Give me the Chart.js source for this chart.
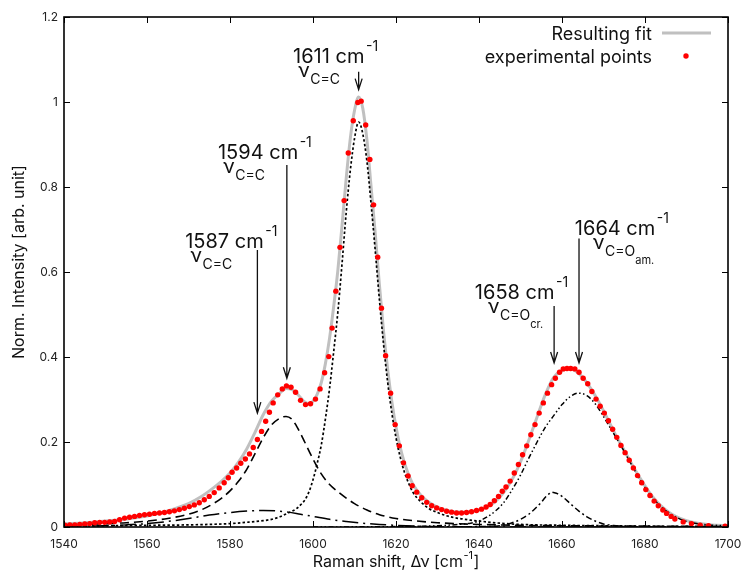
<!DOCTYPE html>
<html>
<head>
<meta charset="utf-8">
<script src="https://cdn.jsdelivr.net/npm/chart.js@4.4.1/dist/chart.umd.min.js"></script>
<style>
  body { margin: 0; background: #fff; }
</style>
</head>
<body>
<canvas id="myChart" width="744" height="571"></canvas>
<script>
// experimental points (Raman shift, normalised intensity)
const expShift = [
  1540.2, 1541.4, 1542.6, 1543.8, 1545.0, 1546.2, 1547.4, 1548.6, 1549.8, 1551.0,
  1552.2, 1553.4, 1554.6, 1555.8, 1557.0, 1558.2, 1559.4, 1560.6, 1561.8, 1563.0,
  1564.2, 1565.4, 1566.6, 1567.8, 1569.0, 1570.2, 1571.4, 1572.6, 1573.8, 1575.0,
  1576.2, 1577.4, 1578.6, 1579.6, 1580.5, 1581.6, 1582.6, 1583.7, 1584.7, 1585.6,
  1586.6, 1587.6, 1588.6, 1589.5, 1590.4, 1591.5, 1592.6, 1593.6, 1594.7, 1595.8,
  1597.0, 1598.2, 1599.4, 1600.6, 1601.7, 1602.8, 1603.8, 1604.6, 1605.5, 1606.5,
  1607.5, 1608.5, 1609.7, 1610.8, 1611.6, 1612.7, 1613.7, 1614.6, 1615.6, 1616.5,
  1617.5, 1618.7, 1619.8, 1620.8, 1621.8, 1622.9, 1623.9, 1625.0, 1626.2, 1627.4,
  1628.6, 1629.8, 1631.0, 1632.2, 1633.4, 1634.6, 1635.8, 1637.0, 1638.2, 1639.4,
  1640.6, 1641.7, 1642.7, 1643.7, 1644.7, 1645.6, 1646.5, 1647.5, 1648.5, 1649.5,
  1650.5, 1651.5, 1652.5, 1653.5, 1654.5, 1655.5, 1656.5, 1657.5, 1658.4, 1659.4,
  1660.3, 1661.2, 1662.1, 1663.1, 1664.1, 1665.1, 1666.2, 1667.2, 1668.2, 1669.2,
  1670.2, 1671.2, 1672.2, 1673.2, 1674.2, 1675.2, 1676.2, 1677.2, 1678.2, 1679.2,
  1680.2, 1681.2, 1682.2, 1683.2, 1684.3, 1685.2, 1686.3, 1687.2, 1689.2, 1691.2,
  1693.3, 1695.3, 1699.3
];
const expInt = [
  0.004, 0.005, 0.005, 0.006, 0.007, 0.008, 0.010, 0.011, 0.011, 0.012,
  0.013, 0.017, 0.021, 0.023, 0.025, 0.027, 0.029, 0.030, 0.032, 0.033,
  0.034, 0.036, 0.038, 0.041, 0.044, 0.048, 0.052, 0.057, 0.064, 0.072,
  0.081, 0.092, 0.104, 0.116, 0.129, 0.139, 0.150, 0.160, 0.172, 0.187,
  0.206, 0.225, 0.249, 0.270, 0.292, 0.311, 0.325, 0.332, 0.329, 0.317,
  0.298, 0.288, 0.290, 0.301, 0.325, 0.363, 0.401, 0.468, 0.555, 0.658,
  0.768, 0.880, 0.956, 0.999, 1.002, 0.946, 0.865, 0.758, 0.635, 0.515,
  0.403, 0.315, 0.241, 0.191, 0.151, 0.120, 0.097, 0.082, 0.069, 0.058,
  0.050, 0.045, 0.041, 0.037, 0.035, 0.033, 0.033, 0.034, 0.036, 0.039,
  0.042, 0.047, 0.053, 0.062, 0.072, 0.084, 0.094, 0.108, 0.127, 0.147,
  0.170, 0.191, 0.217, 0.241, 0.268, 0.292, 0.315, 0.335, 0.350, 0.364,
  0.372, 0.373, 0.373, 0.372, 0.364, 0.350, 0.337, 0.319, 0.301, 0.284,
  0.268, 0.250, 0.230, 0.211, 0.192, 0.175, 0.157, 0.139, 0.121, 0.104,
  0.088, 0.074, 0.061, 0.050, 0.040, 0.032, 0.025, 0.019, 0.012, 0.008,
  0.004, 0.003, 0.002
];

// resulting fit (grey line)
const fitShift = [
  1540, 1545, 1550, 1555, 1560, 1565, 1570, 1573, 1576, 1578,
  1580, 1582, 1584, 1586, 1588, 1590, 1592, 1593.5, 1595, 1596.5,
  1598, 1599, 1600, 1601, 1602, 1603, 1604, 1605, 1606, 1607,
  1608, 1609, 1610, 1611, 1612, 1613, 1614, 1615, 1616, 1617,
  1618, 1619, 1620, 1621, 1622, 1623, 1624, 1626, 1628, 1630,
  1632, 1634, 1636, 1638, 1640, 1642, 1644, 1646, 1648, 1650,
  1652, 1654, 1656, 1658, 1660, 1661.5, 1663, 1665, 1667, 1669,
  1671, 1673, 1675, 1677, 1679, 1681, 1683, 1685, 1687, 1690,
  1693, 1696, 1700
];
const fitInt = [
  0.007, 0.010, 0.014, 0.019, 0.026, 0.038, 0.055, 0.071, 0.092, 0.108,
  0.127, 0.152, 0.183, 0.222, 0.264, 0.296, 0.315, 0.326, 0.323, 0.310,
  0.294, 0.290, 0.296, 0.312, 0.340, 0.385, 0.445, 0.520, 0.605, 0.710,
  0.820, 0.915, 0.980, 1.012, 0.985, 0.910, 0.800, 0.690, 0.570, 0.460,
  0.370, 0.295, 0.235, 0.188, 0.152, 0.124, 0.102, 0.075, 0.058, 0.047,
  0.040, 0.036, 0.035, 0.036, 0.040, 0.047, 0.060, 0.082, 0.112, 0.153,
  0.204, 0.259, 0.312, 0.352, 0.368, 0.373, 0.369, 0.352, 0.325, 0.292,
  0.254, 0.215, 0.180, 0.145, 0.112, 0.082, 0.058, 0.040, 0.027, 0.015,
  0.008, 0.005, 0.003
];

// fitted bands
const b1611Shift = [
  1540, 1550, 1560, 1570, 1580, 1585, 1588, 1590, 1592, 1594,
  1596, 1597, 1598, 1599, 1600, 1601, 1602, 1603, 1604, 1605,
  1606, 1607, 1608, 1609, 1610, 1611, 1612, 1613, 1614, 1615,
  1616, 1617, 1618, 1619, 1620, 1621, 1622, 1623, 1624, 1626,
  1628, 1630, 1632, 1634, 1636, 1638, 1640, 1645, 1650, 1660,
  1670, 1680, 1700
];
const b1611Int = [
  0.002, 0.003, 0.004, 0.005, 0.008, 0.012, 0.015, 0.018, 0.024, 0.033,
  0.043, 0.052, 0.063, 0.082, 0.111, 0.149, 0.193, 0.255, 0.327, 0.414,
  0.507, 0.620, 0.740, 0.840, 0.914, 0.953, 0.925, 0.860, 0.760, 0.650,
  0.535, 0.430, 0.340, 0.268, 0.210, 0.165, 0.130, 0.104, 0.083, 0.059,
  0.043, 0.034, 0.027, 0.022, 0.019, 0.016, 0.014, 0.009, 0.006, 0.004,
  0.003, 0.002, 0.001
];

const b1594Shift = [
  1540, 1545, 1550, 1555, 1560, 1565, 1570, 1573, 1576, 1578,
  1580, 1582, 1584, 1586, 1588, 1590, 1592, 1593.5, 1595, 1596,
  1597, 1598, 1600, 1602, 1604, 1606, 1608, 1610, 1613, 1616,
  1620, 1625, 1630, 1640, 1650, 1660, 1680, 1700
];
const b1594Int = [
  0.004, 0.006, 0.008, 0.010, 0.014, 0.020, 0.030, 0.040, 0.055, 0.068,
  0.085, 0.107, 0.135, 0.172, 0.210, 0.240, 0.256, 0.260, 0.253, 0.238,
  0.220, 0.200, 0.160, 0.125, 0.100, 0.083, 0.068, 0.055, 0.040, 0.029,
  0.020, 0.014, 0.010, 0.006, 0.004, 0.003, 0.002, 0.001
];

const b1587Shift = [
  1540, 1550, 1555, 1560, 1565, 1570, 1575, 1580, 1585, 1588,
  1591, 1594, 1597, 1600, 1604, 1608, 1612, 1616, 1620, 1625,
  1630, 1640, 1700
];
const b1587Int = [
  0.001, 0.003, 0.005, 0.008, 0.013, 0.020, 0.028, 0.034, 0.038, 0.039,
  0.038, 0.035, 0.030, 0.025, 0.018, 0.013, 0.009, 0.006, 0.004, 0.002,
  0.001, 0.000, 0.000
];

const b1658Shift = [
  1620, 1635, 1640, 1644, 1646, 1648, 1650, 1652, 1654, 1655,
  1656, 1657, 1657.5, 1658, 1659, 1660, 1662, 1664, 1666, 1668,
  1670, 1673, 1676, 1680, 1700
];
const b1658Int = [
  0.000, 0.000, 0.001, 0.002, 0.005, 0.010, 0.018, 0.030, 0.048, 0.058,
  0.070, 0.079, 0.082, 0.081, 0.078, 0.072, 0.055, 0.038, 0.024, 0.014,
  0.007, 0.003, 0.001, 0.000, 0.000
];

const b1664Shift = [
  1600, 1620, 1630, 1635, 1638, 1640, 1642, 1644, 1646, 1648,
  1650, 1652, 1654, 1656, 1658, 1660, 1662, 1664, 1666, 1668,
  1670, 1672, 1674, 1676, 1678, 1680, 1682, 1684, 1686, 1688,
  1690, 1692, 1695, 1700
];
const b1664Int = [
  0.000, 0.001, 0.003, 0.006, 0.009, 0.014, 0.024, 0.038, 0.058, 0.088,
  0.122, 0.162, 0.200, 0.235, 0.262, 0.288, 0.307, 0.315, 0.309, 0.290,
  0.260, 0.227, 0.195, 0.160, 0.125, 0.093, 0.067, 0.047, 0.032, 0.021,
  0.013, 0.009, 0.005, 0.003
];

const xTicks = [1540, 1560, 1580, 1600, 1620, 1640, 1660, 1680, 1700];
const yTicks = [0, 0.2, 0.4, 0.6, 0.8, 1, 1.2];
const yTickLabels = ['0', '0.2', '0.4', '0.6', '0.8', '1', '1.2'];

// peak labels: arrow from "top" down to "tip" at x; text anchored at (tx, ty)
const peaks = [
  { nu: '1611', x: 1611,   top: 1.071, tip: 1.029, tx: 1595.2, ty: 1.091, indent: 5,  sub: 'C=C', sub2: '' },
  { nu: '1594', x: 1593.7, top: 0.852, tip: 0.350, tx: 1577.1, ty: 0.866, indent: 5,  sub: 'C=C', sub2: '' },
  { nu: '1587', x: 1586.6, top: 0.652, tip: 0.268, tx: 1569.2, ty: 0.657, indent: 5,  sub: 'C=C', sub2: '' },
  { nu: '1658', x: 1658.1, top: 0.520, tip: 0.386, tx: 1639.0, ty: 0.537, indent: 13, sub: 'C=O', sub2: 'cr.' },
  { nu: '1664', x: 1664.1, top: 0.679, tip: 0.386, tx: 1663.1, ty: 0.687, indent: 18, sub: 'C=O', sub2: 'am.' }
];

const FONT = 'Inter, "Liberation Sans", sans-serif';
const pts = (xs, ys) => xs.map((x, i) => ({ x: x, y: ys[i] }));

const band = (label, xs, ys, dash, w) => ({
  label: label,
  data: pts(xs, ys),
  showLine: true,
  borderColor: '#000',
  borderWidth: w,
  borderDash: dash,
  pointRadius: 0,
  fill: false,
  cubicInterpolationMode: 'monotone'
});

const frame = {
  id: 'frame',
  afterDraw(chart) {
    const ctx = chart.ctx;
    const a = chart.chartArea;
    const x = chart.scales.x, y = chart.scales.y;
    ctx.save();

    // inward ticks on all four sides
    ctx.strokeStyle = '#000';
    ctx.lineWidth = 1;
    ctx.beginPath();
    xTicks.forEach(v => {
      const px = Math.round(x.getPixelForValue(v)) + 0.5;
      ctx.moveTo(px, a.bottom); ctx.lineTo(px, a.bottom - 6);
      ctx.moveTo(px, a.top); ctx.lineTo(px, a.top + 6);
    });
    yTicks.forEach(v => {
      const py = Math.round(y.getPixelForValue(v)) + 0.5;
      ctx.moveTo(a.left, py); ctx.lineTo(a.left + 6, py);
      ctx.moveTo(a.right, py); ctx.lineTo(a.right - 6, py);
    });
    ctx.stroke();

    ctx.lineWidth = 1.6;
    ctx.strokeRect(a.left, a.top, a.right - a.left, a.bottom - a.top);

    // tick labels
    ctx.fillStyle = '#222';
    ctx.font = '12px ' + FONT;
    ctx.textAlign = 'center';
    ctx.textBaseline = 'alphabetic';
    xTicks.forEach(v => ctx.fillText(String(v), x.getPixelForValue(v), a.bottom + 21));
    ctx.textAlign = 'right';
    ctx.textBaseline = 'middle';
    yTicks.forEach((v, i) => ctx.fillText(yTickLabels[i], a.left - 6, y.getPixelForValue(v)));

    // axis titles
    ctx.fillStyle = '#111';
    ctx.textBaseline = 'alphabetic';
    ctx.font = '16px ' + FONT;
    const t1 = 'Raman shift, \u0394\u03bd [cm';
    const w1 = ctx.measureText(t1).width;
    const w3 = ctx.measureText(']').width;
    ctx.font = '11px ' + FONT;
    const w2 = ctx.measureText('-1').width;
    let sx = (a.left + a.right) / 2 - (w1 + w2 + w3 + 1) / 2;
    ctx.textAlign = 'left';
    ctx.font = '16px ' + FONT;
    ctx.fillText(t1, sx, 567);
    ctx.fillText(']', sx + w1 + w2 + 1, 567);
    ctx.font = '11px ' + FONT;
    ctx.fillText('-1', sx + w1 + 0.5, 559);

    ctx.save();
    ctx.translate(24, 262);
    ctx.rotate(-Math.PI / 2);
    ctx.textAlign = 'center';
    ctx.font = '16px ' + FONT;
    ctx.fillText('Norm. Intensity [arb. unit]', 0, 0);
    ctx.restore();

    // legend, gnuplot style (text right-aligned, sample to its right)
    ctx.textAlign = 'right';
    ctx.font = '18px ' + FONT;
    ctx.fillStyle = '#111';
    ctx.fillText('Resulting fit', 652, 40);
    ctx.fillText('experimental points', 652, 63);
    ctx.strokeStyle = '#c0c0c0';
    ctx.lineWidth = 3;
    ctx.beginPath();
    ctx.moveTo(662, 33); ctx.lineTo(711, 33);
    ctx.stroke();
    ctx.fillStyle = '#ff0000';
    ctx.beginPath();
    ctx.arc(686, 56, 2.7, 0, Math.PI * 2);
    ctx.fill();

    // peak assignments with arrows
    ctx.textAlign = 'left';
    peaks.forEach(p => {
      const ax = x.getPixelForValue(p.x);
      const y0 = y.getPixelForValue(p.top);
      const y1 = y.getPixelForValue(p.tip);
      ctx.strokeStyle = '#111';
      ctx.lineWidth = 1.3;
      ctx.beginPath();
      ctx.moveTo(ax, y0); ctx.lineTo(ax, y1);
      ctx.moveTo(ax - 3.5, y1 - 11); ctx.lineTo(ax, y1); ctx.lineTo(ax + 3.5, y1 - 11);
      ctx.stroke();

      const lx = x.getPixelForValue(p.tx);
      const ly = y.getPixelForValue(p.ty);
      ctx.fillStyle = '#111';
      ctx.font = '20px ' + FONT;
      const main = p.nu + ' cm';
      ctx.fillText(main, lx, ly);
      const mw = ctx.measureText(main).width;
      ctx.font = '14px ' + FONT;
      ctx.fillText('-1', lx + mw + 1.5, ly - 12);

      ctx.font = '20px ' + FONT;
      ctx.fillText('\u03bd', lx + p.indent, ly + 14);
      const nw = ctx.measureText('\u03bd').width;
      ctx.font = '14px ' + FONT;
      ctx.fillText(p.sub, lx + p.indent + nw + 0.5, ly + 21);
      if (p.sub2) {
        const sw = ctx.measureText(p.sub).width;
        ctx.font = '11px ' + FONT;
        ctx.fillText(p.sub2, lx + p.indent + nw + sw + 0.5, ly + 29);
      }
    });
    ctx.restore();
  }
};

const config = {
  type: 'scatter',
  data: {
    datasets: [
      {
        label: 'experimental points',
        data: pts(expShift, expInt),
        backgroundColor: '#ff0000',
        borderWidth: 0,
        pointRadius: 2.7,
        showLine: false
      },
      band('1611', b1611Shift, b1611Int, [2.5, 2.2], 1.7),
      band('1594', b1594Shift, b1594Int, [9, 5], 1.6),
      band('1587', b1587Shift, b1587Int, [16, 5, 2, 5], 1.5),
      band('1658', b1658Shift, b1658Int, [6, 3, 2, 3], 1.5),
      band('1664', b1664Shift, b1664Int, [5, 2.5, 1.5, 2.5, 1.5, 2.5], 1.5),
      {
        label: 'Resulting fit',
        data: pts(fitShift, fitInt),
        borderColor: '#c0c0c0',
        borderWidth: 3,
        pointRadius: 0,
        showLine: true,
        fill: false,
        cubicInterpolationMode: 'monotone'
      }
    ]
  },
  options: {
    responsive: false,
    animation: false,
    devicePixelRatio: 1,
    layout: { padding: { top: 17, right: 16, left: 0, bottom: 0 } },
    plugins: {
      legend: { display: false },
      tooltip: { enabled: false }
    },
    scales: {
      x: {
        type: 'linear',
        min: 1540,
        max: 1700,
        afterFit: s => { s.height = 44; },
        grid: { display: false, drawTicks: false },
        border: { display: false },
        ticks: { display: false }
      },
      y: {
        type: 'linear',
        min: 0,
        max: 1.2,
        afterFit: s => { s.width = 64; },
        grid: { display: false, drawTicks: false },
        border: { display: false },
        ticks: { display: false }
      }
    }
  },
  plugins: [frame]
};

new Chart(document.getElementById('myChart'), config);
</script>
</body>
</html>
